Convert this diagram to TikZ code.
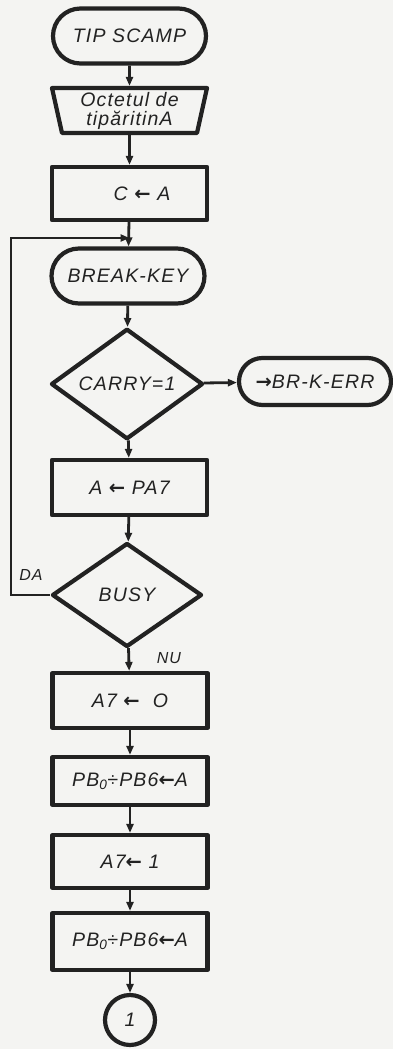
\documentclass[tikz,border=0pt]{standalone}
\usepackage{fontspec}
\setmainfont[LetterSpace=6]{Liberation Sans}
\newfontfamily\arrfont{DejaVu Sans}
\usetikzlibrary{shapes.geometric,shapes.misc,arrows.meta}
\definecolor{ink}{HTML}{222222}
\definecolor{paper}{HTML}{F4F4F2}
\newcommand{\myla}{{\arrfont\upshape\bfseries ←}}
\newcommand{\myra}{{\arrfont\upshape\bfseries →}}
\begin{document}
\begin{tikzpicture}[x=1pt,y=-1pt,
  base/.style={draw=ink, line width=4.2pt, fill=paper, text=ink, line join=round,
    font=\fontsize{19.5}{22}\selectfont\itshape, inner sep=1pt, align=center},
  term/.style={base, rounded rectangle, minimum width=155pt, minimum height=55pt},
  proc/.style={base, rectangle, minimum width=155pt, minimum height=54pt},
  dec/.style={base, shape=diamond, minimum width=152pt, minimum height=100pt, inner sep=0pt},
  iobox/.style={base, draw=none, fill=none, rectangle, minimum width=155pt, minimum height=45pt},
  ioline/.style={draw=ink, fill=paper, line width=4.2pt, line join=round},
  conn/.style={base, circle, minimum size=50pt, inner sep=0pt},
  lbl/.style={text=ink, font=\fontsize{16}{18}\selectfont\itshape, inner sep=0pt},
  flow/.style={draw=ink, line width=2.8pt, -{Triangle[length=9pt,width=7pt]}}
]
\useasboundingbox[fill=paper] (0,0) rectangle (393,1049);

\node[term] (t1) at (129.5,36) {TIP SCAMP};
\path[ioline] (52,88) -- (207,88) -- (197,133) -- (62,133) -- cycle;
\node[iobox] (tr) at (129.5,110.5) {Octetul de\\[-3pt]tipăritinA};
\node[proc, minimum height=53pt] (r1) at (129.5,193.5) {\hspace*{25pt}C \myla\ A};
\node[term] (t2) at (128,276) {BREAK-KEY};
\node[dec, minimum height=98pt] (d1) at (127,384) {CARRY=1};
\node[term, minimum width=154pt, minimum height=47pt] (t3) at (315,381.5) {\myra BR-K-ERR};
\node[proc, minimum height=55pt] (r2) at (129.5,487.5) {A \myla\ PA7};
\node[dec, minimum width=150pt, minimum height=104pt] (d2) at (127,595) {BUSY};
\node[proc, minimum height=55pt] (r3) at (130,700.5) {A7 \myla\ \ O};
\node[proc, minimum height=48pt] (r4) at (130,781) {PB\textsubscript{0}÷PB6\myla A};
\node[proc, minimum height=53pt] (r5) at (130,861.5) {A7\myla\ 1};
\node[proc, minimum height=57pt] (r6) at (130,941.5) {PB\textsubscript{0}÷PB6\myla A};
\node[conn] (c1) at (130,1020) {1};

\node[lbl] (da) at (31,575) {DA};
\node[lbl] (nu) at (169,658) {NU};

\coordinate (lb) at (11,595);
\coordinate (lt) at (11,238);
\coordinate (join) at (129.5,238);

\draw[flow] (t1) -- (tr);
\draw[flow] (tr) -- (r1);
\draw[flow] (r1) -- (t2);
\draw[flow] (t2) -- (d1);
\draw[flow] (d1) -- (t3);
\draw[flow] (d1) -- (r2);
\draw[flow] (r2) -- (d2);
\draw[flow] (d2) -- (r3);
\draw[flow] (r3) -- (r4);
\draw[flow] (r4) -- (r5);
\draw[flow] (r5) -- (r6);
\draw[flow] (r6) -- (c1);
\draw[flow] (d2.west) -- (lb) -- (lt) -- (join);
\end{tikzpicture}
\end{document}
